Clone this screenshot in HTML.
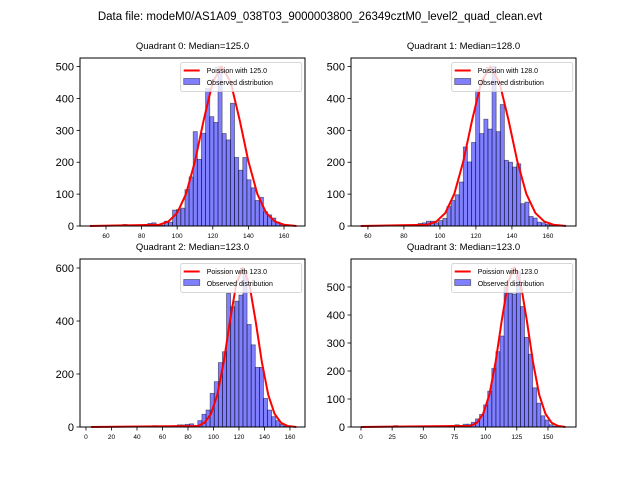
<!DOCTYPE html>
<html><head><meta charset="utf-8"><style>
body{margin:0;background:#fff}
svg{display:block;font-family:"Liberation Sans","DejaVu Sans",sans-serif}
</style></head><body>
<svg id="fig" width="640" height="480" viewBox="0 0 640 480">
<rect width="640" height="480" fill="#fff"/>
<text x="320" y="20" text-anchor="middle" font-size="11.5">Data file: modeM0/AS1A09_038T03_9000003800_26349cztM0_level2_quad_clean.evt</text>
</svg>
<script>
const q0Counts=[0,0,0,0,0,0,0,0,5,0, 0,2,3,5,8,10,0,3,15,12, 50,52,56,114,154,296,209,291,432,343, 325,500,290,270,385,215,175,215,145,120, 80,90,45,35,25,12,5,3,1,0];
const q1Counts=[0,0,0,0,0,0,0,2,0,3, 3,3,3,5,8,10,15,15,10,17, 24,61,80,98,138,248,201,262,427,290, 335,304,500,296,381,206,200,185,195,70, 75,30,25,12,10,5,3,2,1,0];
const q2Counts=[0,0,0,0,0,0,0,0,0,0, 0,0,0,0,2,5,0,0,0,3, 5,8,8,10,12,5,24,48,64,127, 171,243,284,504,454,475,498,586,387,310, 225,225,108,64,39,24,10,3,1,0];
const q3Counts=[0,0,0,0,0,0,0,0,5,0, 0,0,0,0,0,0,0,0,0,0, 0,3,5,8,5,10,10,17,29,45, 79,128,209,269,325,500,477,475,555,430, 320,260,140,85,40,25,8,3,1,0];
const q0Range=[51,167], q1Range=[56,170], q2Range=[4,165], q3Range=[0,164];
const q0CurveX=[51,90,95,100,105,110,115,120,125,130,135,140,145,150,155,160,167];
const q0CurveY=[0,4,14,41,101,203,335,452,500,452,335,203,101,41,14,4,0];
const q1CurveX=[56,93,98,103,108,113,118,123,128,133,138,143,148,153,158,163,170];
const q1CurveY=[0,4,14,41,101,203,335,452,500,452,335,203,101,41,14,4,0];
const q2CurveX=[4,88,93,98,103,108,113,118,123,128,133,138,143,148,153,158,165];
const q2CurveY=[0,4,16,49,121,244,402,543,600,543,402,244,121,49,16,4,0];
const q3CurveX=[0,88,93,98,103,108,113,118,123,128,133,138,143,148,153,158,164];
const q3CurveY=[0,4,15,47,115,232,382,516,570,516,382,232,115,47,15,4,0];
const q0XTicks=[60,80,100,120,140,160], q1XTicks=[60,80,100,120,140,160];
const q2XTicks=[0,20,40,60,80,100,120,140,160], q3XTicks=[0,25,50,75,100,125,150];
const q0YTicks=[0,100,200,300,400,500], q1YTicks=[0,100,200,300,400,500];
const q2YTicks=[0,200,400,600], q3YTicks=[0,100,200,300,400,500];
const titles=["Quadrant 0: Median=125.0","Quadrant 1: Median=128.0","Quadrant 2: Median=123.0","Quadrant 3: Median=123.0"];
const legendLabels=["Poission with 125.0","Poission with 128.0","Poission with 123.0","Poission with 123.0"];

const NS="http://www.w3.org/2000/svg";
const svg=document.getElementById('fig');
function mk(tag,attrs,parent){const e=document.createElementNS(NS,tag);for(const k in attrs)e.setAttribute(k,attrs[k]);(parent||svg).appendChild(e);return e;}

const panels=[
 {counts:q0Counts,range:q0Range,cx:q0CurveX,cy:q0CurveY,xt:q0XTicks,yt:q0YTicks,L:80,R:305,T:58,B:226,xmin:45.4,xmax:171.8,ymax:527},
 {counts:q1Counts,range:q1Range,cx:q1CurveX,cy:q1CurveY,xt:q1XTicks,yt:q1YTicks,L:351,R:576,T:58,B:226,xmin:50.6,xmax:175.6,ymax:527},
 {counts:q2Counts,range:q2Range,cx:q2CurveX,cy:q2CurveY,xt:q2XTicks,yt:q2YTicks,L:80,R:305,T:259,B:427,xmin:-4.7,xmax:171.8,ymax:634},
 {counts:q3Counts,range:q3Range,cx:q3CurveX,cy:q3CurveY,xt:q3XTicks,yt:q3YTicks,L:351,R:576,T:259,B:427,xmin:-8,xmax:172.5,ymax:600}
];

panels.forEach((p,i)=>{
 const g=mk('g',{});
 
 
 const sx=v=>p.L+(v-p.xmin)/(p.xmax-p.xmin)*(p.R-p.L);
 const sy=v=>p.B-v/p.ymax*(p.B-p.T);
 const n=p.counts.length, w=(p.range[1]-p.range[0])/n;
 p.counts.forEach((c,k)=>{
  if(c<=0)return;
  const x0=sx(p.range[0]+k*w),x1=sx(p.range[0]+(k+1)*w);
  const r=mk('rect',{x:x0,y:sy(c),width:x1-x0,height:sy(0)-sy(c),fill:'rgba(0,0,255,0.5)',stroke:'rgba(0,0,0,0.5)','stroke-width':0.8},g);
  
  
 });
 const pts=p.cx.map((x,k)=>sx(x)+','+sy(p.cy[k])).join(' ');
 const pl=mk('polyline',{points:pts,fill:'none',stroke:'#ff0000','stroke-width':2,'stroke-linejoin':'round'},g);
 
 
 // axes frame
 const fr=mk('rect',{x:p.L,y:p.T,width:p.R-p.L,height:p.B-p.T,fill:'none',stroke:'#000','stroke-width':1},g);
 
 
 p.xt.forEach(t=>{
  const x=sx(t);
  mk('line',{x1:x,y1:p.B,x2:x,y2:p.B+3.5,stroke:'#000','stroke-width':0.8},g);
  const tx=mk('text',{x:x,y:p.B+12,'text-anchor':'middle','font-size':6.5},g);
  tx.textContent=t;
  
  
 });
 p.yt.forEach(t=>{
  const y=sy(t);
  mk('line',{x1:p.L-3.5,y1:y,x2:p.L,y2:y,stroke:'#000','stroke-width':0.8},g);
  const tx=mk('text',{x:p.L-6,y:y+4,'text-anchor':'end','font-size':11},g);
  tx.textContent=t;
  
  
 });
 const tt=mk('text',{x:(p.L+p.R)/2,y:p.T-9,'text-anchor':'middle','font-size':9.5},g);
 tt.textContent=titles[i];
 
 
 // legend
 const lg=mk('g',{},g);
 
 
 const lx=p.L+100.7, ly=p.T+4.5;
 mk('rect',{x:lx,y:ly,width:121,height:29,rx:2,fill:'rgba(255,255,255,0.8)',stroke:'#ccc','stroke-width':0.8},lg);
 mk('line',{x1:lx+3,y1:ly+8,x2:lx+19,y2:ly+8,stroke:'#ff0000','stroke-width':2},lg);
 mk('rect',{x:lx+3,y:ly+16,width:16,height:6,fill:'rgba(0,0,255,0.5)',stroke:'rgba(0,0,0,0.5)','stroke-width':0.8},lg);
 const t1=mk('text',{x:lx+26,y:ly+10.5,'font-size':7},lg);t1.textContent=legendLabels[i];
 
 
 const t2=mk('text',{x:lx+26,y:ly+22.5,'font-size':7},lg);t2.textContent='Observed distribution';
 
 
});
</script>
</body></html>
